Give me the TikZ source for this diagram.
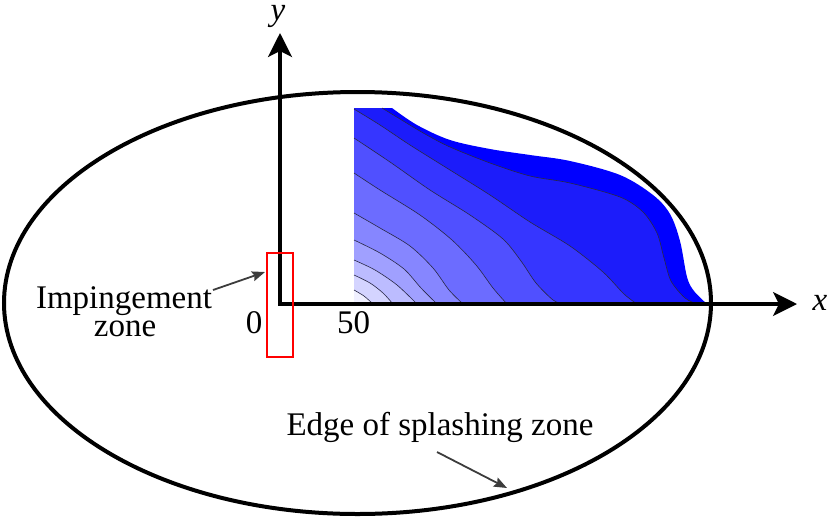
\documentclass[tikz,border=0pt]{standalone}
\usepackage{fontspec}
\setmainfont{Liberation Serif}
\usetikzlibrary{arrows.meta}
\definecolor{c0}{RGB}{0,0,255}
\definecolor{c1}{RGB}{28,28,250}
\definecolor{c2}{RGB}{54,54,255}
\definecolor{c3}{RGB}{80,80,255}
\definecolor{c4}{RGB}{108,108,255}
\definecolor{c5}{RGB}{134,134,255}
\definecolor{c6}{RGB}{160,160,255}
\definecolor{c7}{RGB}{188,188,255}
\definecolor{c8}{RGB}{212,212,255}
\definecolor{c9}{RGB}{240,240,255}
\definecolor{annot}{RGB}{60,60,60}
\definecolor{cline}{RGB}{40,40,70}
\begin{document}
\begin{tikzpicture}[x=1pt,y=-1pt,
  lbl/.style={font=\fontsize{33}{36}\selectfont, inner sep=0pt, anchor=base},
  axisline/.style={line width=3.2pt, line join=miter,
    {Stealth[length=24pt,width=24pt,inset=6pt]}-{Stealth[length=24pt,width=24pt,inset=6pt]}},
  annarrow/.style={draw=annot, line width=1.8pt, -{Stealth[length=13pt,width=10pt,inset=2pt]}},
  contour/.style={draw=cline, line width=0.6pt},
  zonebox/.style={draw=red, line width=2pt, minimum width=26pt, minimum height=104pt, inner sep=0pt},
  splash/.style={draw=black, line width=4pt}
]
\useasboundingbox (0,0) rectangle (832,517);

% contour plot
\def\lineA{(382,108) (400,119) (425,134) (450,147) (490,163) (530,176) (570,183) (620,197) (643,212) (657,233) (664,258) (671,281) (685,298) (697,304)}
\def\lineB{(354,109) (380,125) (410,145) (450,170) (490,195) (530,222) (570,246) (603,272) (624,294) (637,304)}
\def\lineC{(354,138) (390,162) (430,190) (470,215) (503,239) (521,261) (536,283) (553,300) (563,304)}
\def\lineD{(354,173) (380,190) (420,215) (452,240) (476,265) (493,288) (507,304)}
\def\lineE{(354,213) (380,228) (410,246) (433,268) (449,290) (463,304)}
\def\lineF{(354,240) (380,253) (404,269) (421,288) (437,304)}
\def\lineG{(354,260) (375,270) (397,285) (417,304)}
\def\lineH{(354,275) (370,283) (383,293) (393,304)}
\def\lineI{(354,290) (364,296) (373,304)}

\fill[c0] (354,304) -- (354,108) -- plot[smooth, tension=0.55] coordinates {(392,108) (417,125) (450,140) (490,149) (530,155) (570,161) (620,175) (653,195) (670,214) (680,241) (687,277) (694,291) (707,304)} -- cycle;
\fill[c1] (354,304) -- (354,108) -- plot[smooth] coordinates \lineA -- cycle;
\fill[c2] (354,304) -- plot[smooth] coordinates \lineB -- cycle;
\fill[c3] (354,304) -- plot[smooth] coordinates \lineC -- cycle;
\fill[c4] (354,304) -- plot[smooth] coordinates \lineD -- cycle;
\fill[c5] (354,304) -- plot[smooth] coordinates \lineE -- cycle;
\fill[c6] (354,304) -- plot[smooth] coordinates \lineF -- cycle;
\fill[c7] (354,304) -- plot[smooth] coordinates \lineG -- cycle;
\fill[c8] (354,304) -- plot[smooth] coordinates \lineH -- cycle;
\fill[c9] (354,304) -- plot[smooth] coordinates \lineI -- cycle;
\foreach \L in {\lineA,\lineB,\lineC,\lineD,\lineE,\lineF,\lineG,\lineH,\lineI}{
  \draw[contour] plot[smooth] coordinates \L;
}

% splashing zone edge
\draw[splash] (357.5,303) ellipse [x radius=353.5pt, y radius=211pt];

% axes
\coordinate (O) at (280,304);
\coordinate (ytip) at (280,33);
\coordinate (xtip) at (797,304);
\draw[axisline] (ytip) -- (O) -- (xtip);
\node[lbl, font=\fontsize{33}{36}\selectfont\itshape] (ylab) at (278,20) {y};
\node[lbl, font=\fontsize{33}{36}\selectfont\itshape] (xlab) at (820,310) {x};
\node[lbl] (zero) at (254,333) {0};
\node[lbl] (fifty) at (353.5,333) {50};

% impingement zone
\node[zonebox] (imp) at (279.5,305) {};
\node[lbl] (imptxt) at (124,308) {Impingement};
\node[lbl] (zonetxt) at (125,336) {zone};
\coordinate (impA) at (213,290);
\coordinate (impB) at (265,272);
\draw[annarrow] (impA) -- (impB);

% edge label
\node[lbl] (edgetxt) at (440,435) {Edge of splashing zone};
\coordinate (edgeA) at (437,452);
\coordinate (edgeB) at (507,488);
\draw[annarrow] (edgeA) -- (edgeB);
\end{tikzpicture}
\end{document}
